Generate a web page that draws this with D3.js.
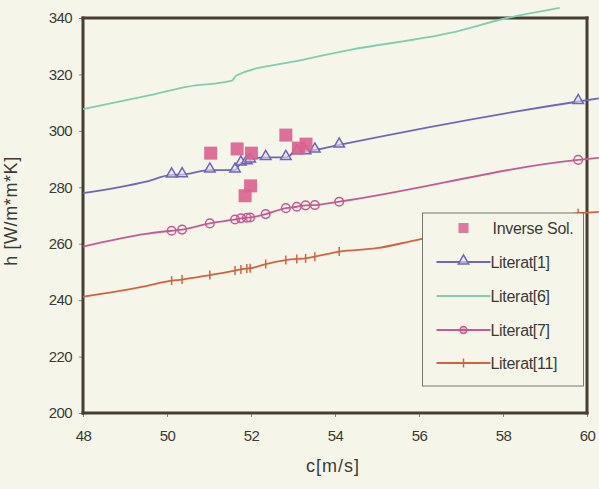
<!DOCTYPE html>
<html>
<head>
<meta charset="utf-8">
<script src="https://cdn.jsdelivr.net/npm/d3@7"></script>
<style>
  html, body { margin: 0; padding: 0; background: #f5f6e9; }
  svg { display: block; }
  text { font-family: "Liberation Sans", Arial, sans-serif; }
</style>
</head>
<body>
<svg id="chart" width="599" height="489"></svg>
<script>
// Air velocity c [m/s] and heat transfer coefficient h [W/(m*m*K)]
const xTicks = [48, 50, 52, 54, 56, 58, 60];
const yTicks = [200, 220, 240, 260, 280, 300, 320, 340];

// Inverse solution (measured points)
const inverseC = [51.04, 51.67, 52.01, 51.99, 51.86, 52.83, 53.13, 53.31];
const inverseH = [292.1, 293.6, 292.1, 280.5, 277.0, 298.5, 293.9, 295.3];

// Velocities where correlations were evaluated (markers)
const markC = [50.11, 50.36, 51.02, 51.62, 51.76, 51.90, 51.98, 52.35, 52.83, 53.09, 53.30, 53.52, 54.10, 59.79];

// Literat[1]
const lit1C = [48, 49.5, ...markC, 60.28];
const lit1H = [277.9, 282.0, 284.4, 284.5, 286.1, 286.1, 288.6, 289.1, 289.7, 290.6, 290.6, 292.6, 292.6, 293.2, 295.0, 310.4, 311.5];
const lit1Mark = [284.4, 284.5, 286.1, 286.1, 288.6, 289.1, 289.7, 290.6, 290.6, 292.6, 292.6, 293.2, 295.0, 310.4];

// Literat[6] (line only)
const lit6C = [48, 49.6, 50.5, 51.55, 51.65, 53.17, 54.36, 56.74, 58.1, 59.35];
const lit6H = [307.7, 312.7, 315.7, 317.8, 319.6, 325.0, 328.7, 334.7, 340.0, 343.6];

// Literat[7]
const lit7C = [48, 49.5, ...markC, 60.28];
const lit7H = [259.0, 263.5, 264.6, 265.0, 267.2, 268.6, 269.0, 269.2, 269.3, 270.5, 272.6, 273.1, 273.6, 273.7, 274.9, 289.7, 290.4];
const lit7Mark = [264.6, 265.0, 267.2, 268.6, 269.0, 269.2, 269.3, 270.5, 272.6, 273.1, 273.6, 273.7, 274.9, 289.7];

// Literat[11]
const lit11C = [48, 49.5, 50.11, 50.36, 51.02, 51.62, 51.76, 51.90, 51.98, 52.35, 52.83, 53.09, 53.30, 53.52, 54.10, 54.99, 55.94, 59.79, 60.28];
const lit11H = [241.2, 245.0, 246.9, 247.3, 248.9, 250.5, 250.9, 251.2, 251.3, 252.8, 254.2, 254.6, 254.8, 255.4, 257.2, 258.4, 261.3, 270.8, 271.3];
const lit11Mark = [246.9, 247.3, 248.9, 250.5, 250.9, 251.2, 251.3, 252.8, 254.2, 254.6, 254.8, 255.4, 257.2, 270.8];

const legendLabels = ["Inverse Sol.", "Literat[1]", "Literat[6]", "Literat[7]", "Literat[11]"];

const colors = {
  inv: "#d9628f",
  lit1: "#6f66b8",
  lit6: "#82cdb0",
  lit7: "#c65a92",
  lit11: "#d2633f",
  bg: "#f5f6e9",
  text: "#3c3a36"
};

const svg = d3.select("#chart");
const plot = { left: 83, right: 587, top: 18, bottom: 413 };

const x = d3.scaleLinear().domain([48, 60]).range([plot.left, plot.right]);
const y = d3.scaleLinear().domain([200, 340]).range([plot.bottom, plot.top]);

svg.append("rect").attr("width", 599).attr("height", 489).attr("fill", colors.bg);

// Axes
const xAxis = svg.append("g")
  .attr("transform", `translate(0,${plot.bottom})`)
  .call(d3.axisBottom(x).tickValues(xTicks).tickFormat(d3.format("d")).tickSize(4).tickPadding(13).tickSizeOuter(0));
const yAxis = svg.append("g")
  .attr("transform", `translate(${plot.left},0)`)
  .call(d3.axisLeft(y).tickValues(yTicks).tickFormat(d3.format("d")).tickSize(4).tickPadding(7).tickSizeOuter(0));

[xAxis, yAxis].forEach(g => {
  g.select(".domain").remove();
  g.selectAll(".tick line").attr("stroke", "#8a8478").attr("stroke-width", 1);
  g.selectAll(".tick text")
    .attr("fill", colors.text)
    .style("font-size", "15px")
    .style("letter-spacing", "-0.6px");
});

// Box around the plotting area, one edge per line
const [fx0, fx1] = x.range();
const [fy0, fy1] = y.range();
const edges = [
  [fx0, fy0, fx1, fy0],
  [fx0, fy1, fx1, fy1],
  [fx0, fy0, fx0, fy1],
  [fx1, fy0, fx1, fy1]
];
svg.append("g").attr("class", "frame")
  .selectAll("line").data(edges).join("line")
  .attr("x1", d => d[0]).attr("y1", d => d[1])
  .attr("x2", d => d[2]).attr("y2", d => d[3])
  .style("stroke", "#463e33")
  .style("stroke-width", "3px")
  .style("stroke-linecap", "square");

// Axis titles
svg.append("text")
  .attr("x", 333).attr("y", 472)
  .attr("text-anchor", "middle")
  .attr("fill", colors.text)
  .style("font-size", "18px")
  .style("letter-spacing", "1px")
  .text("c[m/s]");

svg.append("text")
  .attr("transform", "translate(17,211) rotate(-90)")
  .attr("text-anchor", "middle")
  .attr("fill", colors.text)
  .style("font-size", "18px")
  .style("letter-spacing", "0.6px")
  .text("h [W/m*m*K]");

const line = d3.line().x(d => x(d[0])).y(d => y(d[1])).curve(d3.curveMonotoneX);
const zip = (a, b) => a.map((v, i) => [v, b[i]]);

function drawLine(cs, hs, color, w) {
  svg.append("path")
    .datum(zip(cs, hs))
    .attr("d", line)
    .attr("fill", "none")
    .attr("stroke", color)
    .attr("stroke-width", w)
    .attr("stroke-linejoin", "round");
}

drawLine(lit6C, lit6H, colors.lit6, 1.8);
drawLine(lit1C, lit1H, colors.lit1, 1.8);
drawLine(lit7C, lit7H, colors.lit7, 1.8);
drawLine(lit11C, lit11H, colors.lit11, 1.8);

// Marker shapes
const triPath = d3.symbol().type(d3.symbolTriangle).size(48);

function triangles(cs, hs, color) {
  svg.append("g").selectAll("path").data(zip(cs, hs)).join("path")
    .attr("d", triPath)
    .attr("transform", d => `translate(${x(d[0])},${y(d[1]) - 1})`)
    .attr("fill", "#e4e3ee").attr("fill-opacity", 0.6)
    .attr("stroke", color).attr("stroke-width", 1.5);
}
function circles(cs, hs, color) {
  svg.append("g").selectAll("circle").data(zip(cs, hs)).join("circle")
    .attr("cx", d => x(d[0])).attr("cy", d => y(d[1])).attr("r", 4.3)
    .attr("fill", "none")
    .attr("stroke", color).attr("stroke-width", 1.5);
}
function dashes(cs, hs, color) {
  svg.append("g").selectAll("line").data(zip(cs, hs)).join("line")
    .attr("x1", d => x(d[0])).attr("x2", d => x(d[0]))
    .attr("y1", d => y(d[1]) - 4.5).attr("y2", d => y(d[1]) + 4.5)
    .attr("stroke", color).attr("stroke-width", 1.5);
}

dashes(markC, lit11Mark, colors.lit11);
circles(markC, lit7Mark, colors.lit7);
triangles(markC, lit1Mark, colors.lit1);

// Inverse solution squares
svg.append("g").selectAll("rect").data(zip(inverseC, inverseH)).join("rect")
  .attr("x", d => x(d[0]) - 6.5).attr("y", d => y(d[1]) - 6.5)
  .attr("width", 13).attr("height", 13)
  .attr("fill", colors.inv).attr("fill-opacity", 0.9);

// Legend
const lg = svg.append("g").attr("transform", "translate(422.5,213)");
lg.append("rect")
  .attr("width", 161).attr("height", 173)
  .attr("fill", colors.bg).attr("stroke", "#6b6a62").attr("stroke-width", 0.9);

const rowY = [15, 49, 83, 117, 150];
const sx0 = 14, sx1 = 68, sm = 41;
legendLabels.forEach((lab, i) => {
  const ry = rowY[i];
  const row = lg.append("g").attr("transform", `translate(0,${ry})`);
  if (i === 0) {
    row.append("rect").attr("x", sm - 5).attr("y", -5).attr("width", 10).attr("height", 10)
      .attr("fill", colors.inv).attr("fill-opacity", 0.85);
  } else {
    const c = [colors.lit1, colors.lit6, colors.lit7, colors.lit11][i - 1];
    row.append("line").attr("x1", sx0).attr("x2", sx1).attr("y1", 0).attr("y2", 0)
      .attr("stroke", c).attr("stroke-width", 1.8);
    if (i === 1) {
      row.append("path").attr("d", triPath).attr("transform", `translate(${sm},-1)`)
        .attr("fill", "#e4e3ee").attr("fill-opacity", 0.6).attr("stroke", c).attr("stroke-width", 1.5);
    } else if (i === 3) {
      row.append("circle").attr("cx", sm).attr("cy", 0).attr("r", 3.5)
        .attr("fill", c).attr("fill-opacity", 0.35).attr("stroke", c).attr("stroke-width", 1.5);
    } else if (i === 4) {
      row.append("line").attr("x1", sm).attr("x2", sm).attr("y1", -4.5).attr("y2", 4.5)
        .attr("stroke", c).attr("stroke-width", 1.5);
    }
  }
  row.append("text")
    .attr("x", i === 0 ? 70 : 68).attr("y", 0).attr("dy", "0.35em")
    .attr("fill", colors.text)
    .style("font-size", "16px")
    .style("letter-spacing", "-0.3px")
    .text(lab);
});
</script>
</body>
</html>
